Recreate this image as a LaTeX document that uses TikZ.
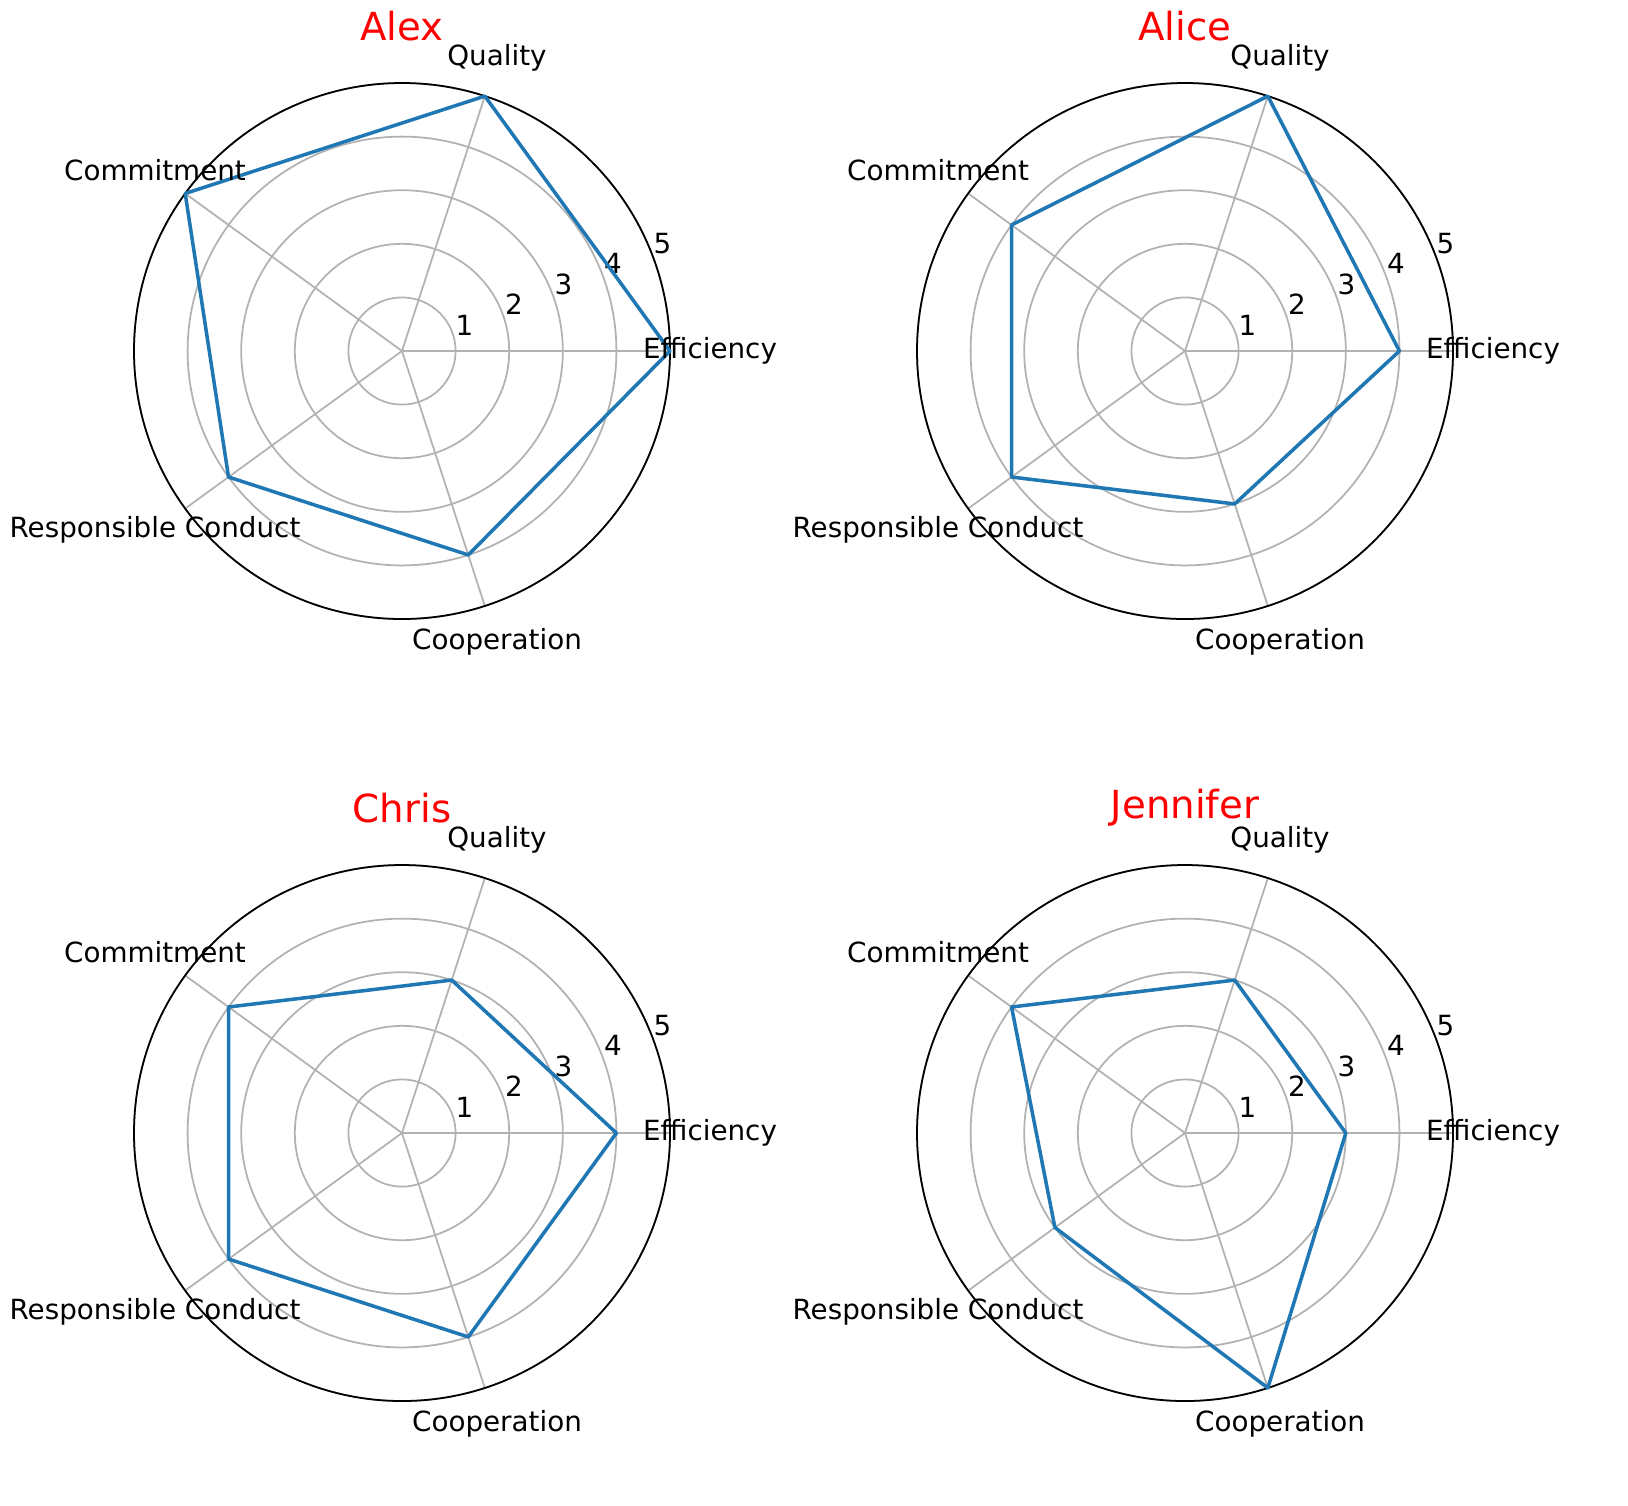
\documentclass[tikz,border=0pt]{standalone}
\usepackage{fontspec}
\setmainfont{DejaVu Sans}
\definecolor{mplblue}{HTML}{1F77B4}
\begin{document}
\begin{tikzpicture}[x=0.01cm, y=-0.01cm,
    grid/.style={draw=black!30, line width=0.5pt},
    rim/.style={draw=black, line width=0.5pt},
    score/.style={draw=mplblue, line width=1pt, line join=round},
    axlabel/.style={font=\fontsize{7.9}{9}\selectfont},
    ticklabel/.style={font=\fontsize{7.9}{9}\selectfont},
    title/.style={font=\fontsize{11}{13}\selectfont, text=red}]
    \useasboundingbox (0,0) rectangle (1628,1505);
    % one radar per person: centre x, centre y, name, five scores
    \foreach \cx/\cy/\who/\ve/\vq/\vc/\vr/\vo in {402/351/Alex/5/5/5/4/4, 1185/351/Alice/4/5/4/4/3, 402/1133/Chris/4/3/4/4/4, 1185/1133/Jennifer/3/3/4/3/5}{
        \begin{scope}[shift={(\cx,\cy)}]
            \coordinate (o) at (0,0);
            % rings and spokes
            \foreach \k in {1,...,5}{
                \draw [grid] (o) circle (53.6*\k);
                \node [ticklabel] (t\k) at (-22.5:53.6*\k+14) {\k};
            }
            \foreach \a in {0,-72,-144,-216,-288}{
                \draw [grid] (o) -- (\a:268);
            }
            \draw [rim] (o) circle (268);
            % scores
            \coordinate (pe) at (0:53.6*\ve);
            \coordinate (pq) at (-72:53.6*\vq);
            \coordinate (pc) at (-144:53.6*\vc);
            \coordinate (pr) at (-216:53.6*\vr);
            \coordinate (po) at (-288:53.6*\vo);
            \draw [score] (pe) -- (pq) -- (pc) -- (pr) -- (po) -- cycle;
            % labels
            \node [axlabel] (le) at (308,0) {Efficiency};
            \node [axlabel] (lq) at (95,-293) {Quality};
            \node [axlabel] (lc) at (-247,-181) {Commitment};
            \node [axlabel] (lr) at (-247,179) {Responsible Conduct};
            \node [axlabel] (lo) at (95,291) {Cooperation};
            \node [title] (name) at (0,-325) {\who};
        \end{scope}
    }
\end{tikzpicture}
\end{document}
